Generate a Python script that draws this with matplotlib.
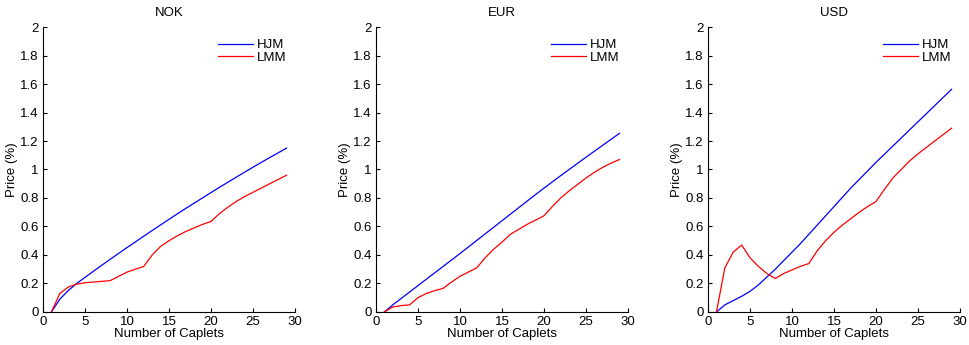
import numpy as np
import matplotlib.pyplot as plt

plt.rcParams['font.family'] = ['Liberation Sans', 'DejaVu Sans']

caplets = list(range(1, 30))

nok_hjm = [0, 0.09, 0.15, 0.20, 0.243, 0.286, 0.328, 0.370, 0.411, 0.452,
           0.492, 0.532, 0.572, 0.611, 0.650, 0.689, 0.727, 0.764, 0.801, 0.838,
           0.875, 0.910, 0.946, 0.981, 1.016, 1.050, 1.084, 1.117, 1.150]
nok_lmm = [0, 0.13, 0.175, 0.195, 0.205, 0.21, 0.215, 0.22, 0.25, 0.28,
           0.30, 0.32, 0.40, 0.46, 0.50, 0.535, 0.565, 0.59, 0.615, 0.635,
           0.69, 0.735, 0.775, 0.81, 0.84, 0.87, 0.90, 0.93, 0.96]

eur_hjm = [0, 0.05, 0.095, 0.14, 0.185, 0.23, 0.275, 0.32, 0.365, 0.41,
           0.456, 0.502, 0.548, 0.594, 0.64, 0.686, 0.732, 0.778, 0.824, 0.869,
           0.913, 0.957, 1.0, 1.043, 1.086, 1.128, 1.17, 1.212, 1.254]
eur_lmm = [0, 0.035, 0.045, 0.05, 0.10, 0.13, 0.15, 0.166, 0.21, 0.25,
           0.28, 0.31, 0.38, 0.44, 0.49, 0.545, 0.58, 0.615, 0.645, 0.675,
           0.74, 0.80, 0.85, 0.895, 0.94, 0.98, 1.015, 1.045, 1.07]

usd_hjm = [0, 0.05, 0.08, 0.11, 0.145, 0.19, 0.245, 0.30, 0.36, 0.42,
           0.48, 0.545, 0.61, 0.675, 0.74, 0.805, 0.87, 0.93, 0.99, 1.05,
           1.107, 1.164, 1.221, 1.278, 1.335, 1.392, 1.449, 1.506, 1.563]
usd_lmm = [0, 0.31, 0.42, 0.47, 0.38, 0.32, 0.27, 0.235, 0.27, 0.295,
           0.32, 0.34, 0.43, 0.50, 0.56, 0.61, 0.655, 0.70, 0.74, 0.775,
           0.86, 0.94, 1.0, 1.06, 1.11, 1.155, 1.20, 1.245, 1.29]

panels = [('NOK', nok_hjm, nok_lmm),
          ('EUR', eur_hjm, eur_lmm),
          ('USD', usd_hjm, usd_lmm)]
lefts = [0.0444, 0.388, 0.7307]

fig = plt.figure(figsize=(9.69, 3.45), dpi=100)

for left, (name, hjm, lmm) in zip(lefts, panels):
    ax = fig.add_axes([left, 0.0957, 0.26, 0.826])
    ax.plot(caplets, hjm, color='blue', lw=0.9, label='HJM')
    ax.plot(caplets, lmm, color='red', lw=0.9, label='LMM')
    ax.set_xlim(0, 30)
    ax.set_ylim(0, 2)
    ax.set_xticks([0, 5, 10, 15, 20, 25, 30])
    ax.set_yticks(np.arange(0, 2.01, 0.2))
    ax.set_yticklabels(['0', '0.2', '0.4', '0.6', '0.8', '1', '1.2',
                        '1.4', '1.6', '1.8', '2'])
    ax.spines['top'].set_visible(False)
    ax.spines['right'].set_visible(False)
    ax.tick_params(direction='in', length=3, width=0.8, labelsize=9.5, pad=3)
    ax.set_title(name, fontsize=9.5, pad=8)
    ax.set_xlabel('Number of Caplets', fontsize=9.5, labelpad=0)
    ax.set_ylabel('Price (%)', fontsize=9.5, labelpad=2)
    ax.legend(loc='upper right', frameon=False, fontsize=9.5,
              handlelength=2.65, handletextpad=0.3, labelspacing=0.05,
              bbox_to_anchor=(1.015, 1.0))

fig.savefig('out.png', dpi=100)
